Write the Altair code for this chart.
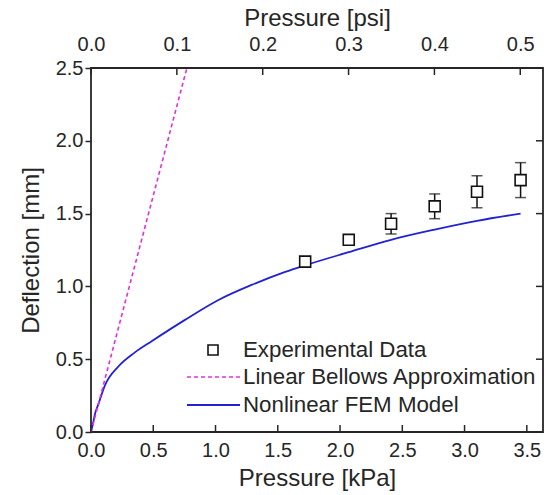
import altair as alt
import pandas as pd

# ---- data ----
fem_kpa = [0, 0.019, 0.03, 0.059, 0.112, 0.22, 0.35, 0.49, 0.755, 1.02, 1.29, 1.56, 1.72, 2.07, 2.41, 2.76, 3.1, 3.45]
fem_mm = [0, 0.07, 0.117, 0.19, 0.32, 0.45, 0.545, 0.625, 0.77, 0.905, 1.01, 1.10, 1.145, 1.235, 1.32, 1.39, 1.45, 1.50]

lin_kpa = [0, 0.77]
lin_mm = [0, 2.5]

exp_kpa = [1.72, 2.07, 2.41, 2.76, 3.10, 3.45]
exp_mm = [1.17, 1.32, 1.43, 1.55, 1.65, 1.73]
exp_err = [0.02, 0.03, 0.07, 0.085, 0.11, 0.12]

kpa_ticks = [0, 0.5, 1.0, 1.5, 2.0, 2.5, 3.0, 3.5]
psi_ticks = [0.0, 0.1, 0.2, 0.3, 0.4, 0.5]
mm_ticks = [0.0, 0.5, 1.0, 1.5, 2.0, 2.5]

legend_labels = ["Experimental Data", "Linear Bellows Approximation", "Nonlinear FEM Model"]

KPA_MAX = 3.63
PSI_PER_KPA = 1 / 6.8948
W, H = 452, 364
FONT = "Liberation Sans"
BLUE = "#2222d0"
MAGENTA = "#e030e0"
INK = "#262626"

fem_df = pd.DataFrame({"kpa": fem_kpa, "mm": fem_mm})
lin_df = pd.DataFrame({"kpa": lin_kpa, "mm": lin_mm})
exp_df = pd.DataFrame({"kpa": exp_kpa, "mm": exp_mm, "err": exp_err})
exp_df["lo"] = exp_df["mm"] - exp_df["err"]
exp_df["hi"] = exp_df["mm"] + exp_df["err"]

xs = alt.Scale(domain=[0, KPA_MAX], nice=False, zero=False)
ys = alt.Scale(domain=[0, 2.5], nice=False)

x_axis = alt.Axis(title="Pressure [kPa]", values=kpa_ticks, format=".1f", orient="bottom",
                  ticks=False, domain=False, grid=False, labelFlush=False,
                  labelPadding=8, titlePadding=6)
y_axis = alt.Axis(title="Deflection [mm]", values=mm_ticks, format=".1f", orient="left",
                  tickSize=6, domain=False, grid=False, labelFlush=False,
                  labelPadding=2, titlePadding=12)

fem = alt.Chart(fem_df).mark_line(color=BLUE, strokeWidth=1.8, interpolate="monotone").encode(
    x=alt.X("kpa:Q", scale=xs, axis=x_axis),
    y=alt.Y("mm:Q", scale=ys, axis=y_axis),
)
lin = alt.Chart(lin_df).mark_line(color=MAGENTA, strokeWidth=1.6, strokeDash=[4, 3], clip=True).encode(
    x="kpa:Q", y="mm:Q"
)
bars = alt.Chart(exp_df).mark_rule(color="#111", strokeWidth=1.5).encode(
    x="kpa:Q", y="lo:Q", y2="hi:Q"
)
cap_lo = alt.Chart(exp_df).mark_tick(color="#111", orient="horizontal", size=11, thickness=1.5).encode(
    x="kpa:Q", y="lo:Q"
)
cap_hi = alt.Chart(exp_df).mark_tick(color="#111", orient="horizontal", size=11, thickness=1.5).encode(
    x="kpa:Q", y="hi:Q"
)
pts = alt.Chart(exp_df).mark_point(shape="square", size=120, filled=True, fill="white",
                                   stroke="#111", strokeWidth=1.6, opacity=1).encode(
    x="kpa:Q", y="mm:Q"
)

# inward ticks on bottom and right
bt = alt.Chart(pd.DataFrame({"t": kpa_ticks})).mark_rule(color=INK, strokeWidth=1.5).encode(
    x="t:Q", y=alt.value(H), y2=alt.value(H - 7)
)
rt = alt.Chart(pd.DataFrame({"t": mm_ticks})).mark_rule(color=INK, strokeWidth=1.5).encode(
    y="t:Q", x=alt.value(W), x2=alt.value(W - 7)
)

# legend
leg_sq = alt.Chart(pd.DataFrame({"a": [0]})).mark_point(shape="square", size=100, filled=True, fill="white",
                                                      stroke="#111", strokeWidth=1.6, opacity=1).encode(
    x=alt.value(122), y=alt.value(282)
)
leg_dash = alt.Chart(pd.DataFrame({"a": [0]})).mark_rule(color=MAGENTA, strokeWidth=1.6, strokeDash=[4, 3]).encode(
    x=alt.value(96), x2=alt.value(149), y=alt.value(309)
)
leg_solid = alt.Chart(pd.DataFrame({"a": [0]})).mark_rule(color=BLUE, strokeWidth=1.8).encode(
    x=alt.value(96), x2=alt.value(149), y=alt.value(337)
)
leg_texts = []
for lab, yy in zip(legend_labels, [282, 309, 337]):
    leg_texts.append(
        alt.Chart(pd.DataFrame({"t": [lab]})).mark_text(
            align="left", baseline="middle", font=FONT, fontSize=22.3, color=INK
        ).encode(x=alt.value(152), y=alt.value(yy), text="t:N")
    )

main = alt.layer(fem, lin, bars, cap_lo, cap_hi, pts, bt, rt, leg_sq, leg_dash, leg_solid, *leg_texts)

# top psi axis
psi_layer = alt.Chart(pd.DataFrame({"p": psi_ticks})).mark_rule(color=INK, strokeWidth=1.5).encode(
    x=alt.X("p:Q", scale=alt.Scale(domain=[0, KPA_MAX * PSI_PER_KPA], nice=False, zero=False),
            axis=alt.Axis(title="Pressure [psi]", values=psi_ticks, format=".1f", orient="top",
                          ticks=False, domain=False, grid=False, labelFlush=False,
                          labelPadding=14, titlePadding=4)),
    y=alt.value(0), y2=alt.value(7),
)

chart = alt.layer(main, psi_layer).resolve_scale(x="independent").properties(
    width=W, height=H,
    background="white",
    autosize=alt.AutoSizeParams(type="none"),
    padding={"left": 91, "top": 68, "right": 7, "bottom": 63},
).configure_view(stroke=INK, strokeWidth=1.8).configure_axis(
    labelFont=FONT, titleFont=FONT, labelFontSize=20, titleFontSize=24,
    labelColor=INK, titleColor=INK, titleFontWeight="normal", tickColor=INK, tickWidth=1.5,
)

chart.save("out.html", embed_options={"renderer": "svg", "actions": False})
